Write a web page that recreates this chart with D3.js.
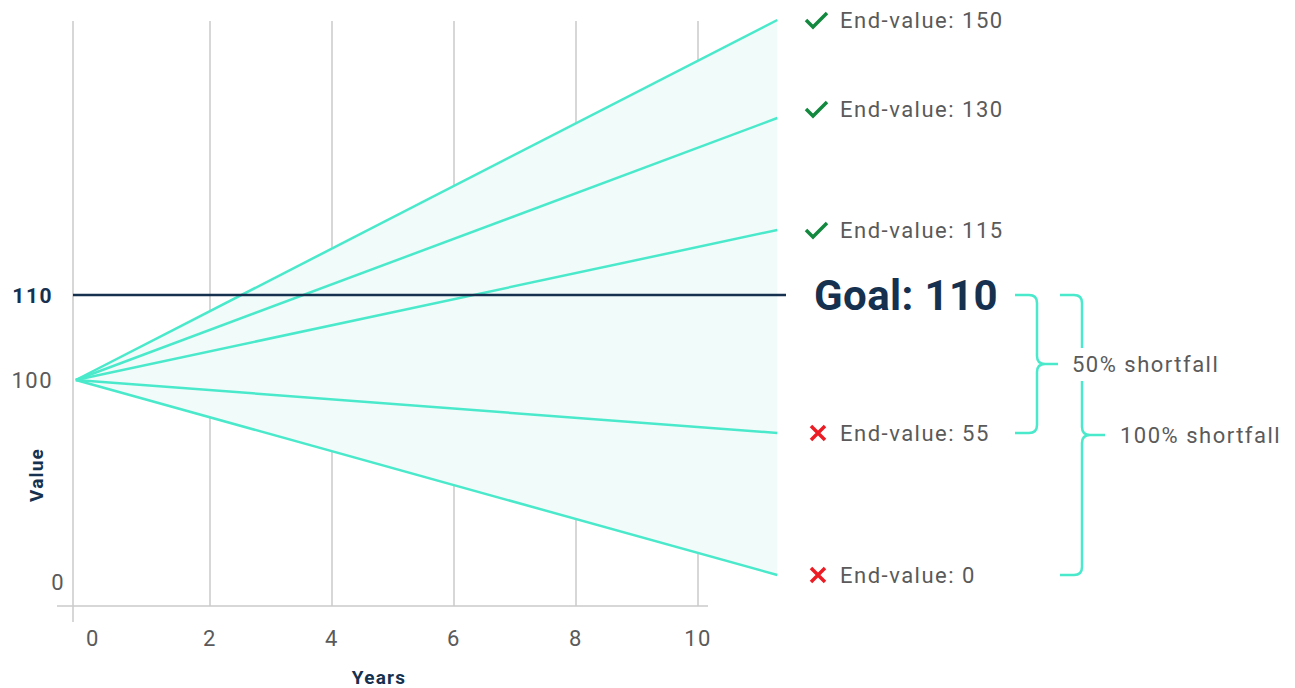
<!DOCTYPE html>
<html>
<head>
<meta charset="utf-8">
<script src="https://cdn.jsdelivr.net/npm/d3@7"></script>
<style>
  body { margin: 0; background: #fff; }
  svg { display: block; font-family: Roboto, "Noto Sans", sans-serif; }
</style>
</head>
<body>
<div id="chart"></div>
<script>
// scenario end values after the horizon, all start at 100
var startValue = 100;
var startYear = -0.2;
var endYear = 11.3;
var endValues = [150, 130, 115, 55, 0];
var goal = 110;
var yearTicks = [0, 2, 4, 6, 8, 10];
var valueTicks = [0, 100, 110];
var braces = [
    {from: 110, to: 55, label: "50% shortfall"},
    {from: 110, to: 0, label: "100% shortfall"}
];

const width = 1295, height = 688;
const teal = "#4ae9cb", navy = "#16314f", grey = "#5a5a5a";
const ls = "1.5px";

// the picture is illustrative, so the value axis is piecewise
const x = d3.scaleLinear().domain([0, 10]).range([88, 698]);
const y = d3.scaleLinear()
    .domain([0, 55, 100, 110, 115, 130, 150])
    .range([575, 433, 380, 295, 230, 118, 20]);

const svg = d3.select("#chart").append("svg")
    .attr("width", width)
    .attr("height", height);

// gridlines
svg.append("g").selectAll("line")
    .data(yearTicks.filter(d => d > 0))
    .join("line")
    .attr("x1", d => x(d)).attr("x2", d => x(d))
    .attr("y1", 21).attr("y2", 606)
    .attr("stroke", "#cacaca").attr("stroke-width", 1.5);

// axes lines
svg.append("line").attr("x1", 73).attr("x2", 73).attr("y1", 21).attr("y2", 622)
    .attr("stroke", "#cacaca").attr("stroke-width", 1.5);
svg.append("line").attr("x1", 57).attr("x2", 708).attr("y1", 606).attr("y2", 606)
    .attr("stroke", "#cacaca").attr("stroke-width", 1.5);

// shaded fan
const maxV = d3.max(endValues), minV = d3.min(endValues);
svg.append("path")
    .attr("d", d3.line()([[x(startYear), y(startValue)], [x(endYear), y(maxV)], [x(endYear), y(minV)]]) + "Z")
    .attr("fill", "#f1fbf9");

// scenario lines
svg.append("g").selectAll("line")
    .data(endValues)
    .join("line")
    .attr("x1", x(startYear)).attr("y1", y(startValue))
    .attr("x2", x(endYear)).attr("y2", d => y(d))
    .attr("stroke", teal).attr("stroke-width", 2.5);

// goal line
svg.append("line")
    .attr("x1", 73).attr("x2", 786)
    .attr("y1", y(goal)).attr("y2", y(goal))
    .attr("stroke", navy).attr("stroke-width", 2.5);

svg.append("text")
    .attr("x", 814).attr("y", y(goal) + 15)
    .attr("font-size", 42).attr("font-weight", 700).attr("fill", navy)
    .attr("letter-spacing", "0.4px")
    .text("Goal: " + goal);

// x tick labels
svg.append("g").selectAll("text")
    .data(yearTicks)
    .join("text")
    .attr("x", d => x(d) + (d === 0 ? 5 : 0))
    .attr("y", 646)
    .attr("text-anchor", "middle")
    .attr("font-size", 22).attr("fill", grey).attr("letter-spacing", ls)
    .text(d => d);

svg.append("text")
    .attr("x", 379).attr("y", 684)
    .attr("text-anchor", "middle")
    .attr("font-size", 19).attr("font-weight", 700).attr("fill", navy)
    .attr("letter-spacing", "1.2px")
    .text("Years");

// y tick labels
svg.append("g").selectAll("text")
    .data(valueTicks)
    .join("text")
    .attr("x", d => d === 0 ? 65 : 53)
    .attr("y", d => y(d) + (d === 0 ? 15 : 8))
    .attr("text-anchor", "end")
    .attr("font-size", d => d === goal ? 21 : 22)
    .attr("font-weight", d => d === goal ? 700 : 400)
    .attr("fill", d => d === goal ? navy : grey)
    .attr("letter-spacing", ls)
    .text(d => d);

svg.append("text")
    .attr("transform", "translate(43,475) rotate(-90)")
    .attr("text-anchor", "middle")
    .attr("font-size", 19).attr("font-weight", 700).attr("fill", navy)
    .attr("letter-spacing", "1.2px")
    .text("Value");

// end-value labels
const labelY = d => y(d) + (d === 130 ? -9 : 0);
const lab = svg.append("g").selectAll("g")
    .data(endValues)
    .join("g")
    .attr("transform", d => `translate(818,${labelY(d)})`);

lab.filter(d => d >= goal).append("path")
    .attr("d", "M-12,0 L-5,7 L9,-7")
    .attr("fill", "none").attr("stroke", "#13893f").attr("stroke-width", 3.5);

lab.filter(d => d < goal).append("path")
    .attr("d", "M-7,-7 L7,7 M7,-7 L-7,7")
    .attr("fill", "none").attr("stroke", "#ec1c24").attr("stroke-width", 3.5);

lab.append("text")
    .attr("x", 22).attr("y", 8)
    .attr("font-size", 22).attr("fill", grey).attr("letter-spacing", ls)
    .text(d => "End-value: " + d);

// braces
const braceX = [{xl: 1015, xv: 1037, xt: 1058}, {xl: 1060, xv: 1082, xt: 1105}];
function bracePath(y0, y1, p) {
    const r = 8, ym = (y0 + y1) / 2;
    return `M${p.xl},${y0} H${p.xv - r} Q${p.xv},${y0} ${p.xv},${y0 + r} V${ym - r} Q${p.xv},${ym} ${p.xv + r},${ym} H${p.xt}` +
        ` M${p.xv + r},${ym} Q${p.xv},${ym} ${p.xv},${ym + r} V${y1 - r} Q${p.xv},${y1} ${p.xv - r},${y1} H${p.xl}`;
}

// draw the wider one first so the inner label can cover it
const bg = svg.append("g");
[1, 0].forEach(i => {
    const b = braces[i];
    const y0 = y(b.from), y1 = y(b.to), ym = (y0 + y1) / 2;
    bg.append("path")
        .attr("d", bracePath(y0, y1, braceX[i]))
        .attr("fill", "none").attr("stroke", teal).attr("stroke-width", 2.5);
    const t = bg.append("text")
        .attr("x", braceX[i].xt + (i === 0 ? 14 : 15))
        .attr("y", ym + 8)
        .attr("font-size", 22).attr("fill", grey).attr("letter-spacing", ls)
        .text(b.label);
    const bb = t.node().getBBox();
    bg.insert("rect", "text:last-of-type")
        .attr("x", bb.x - 4).attr("y", bb.y - 4)
        .attr("width", bb.width + 8).attr("height", bb.height + 8)
        .attr("fill", "#fff");
});
</script>
</body>
</html>
